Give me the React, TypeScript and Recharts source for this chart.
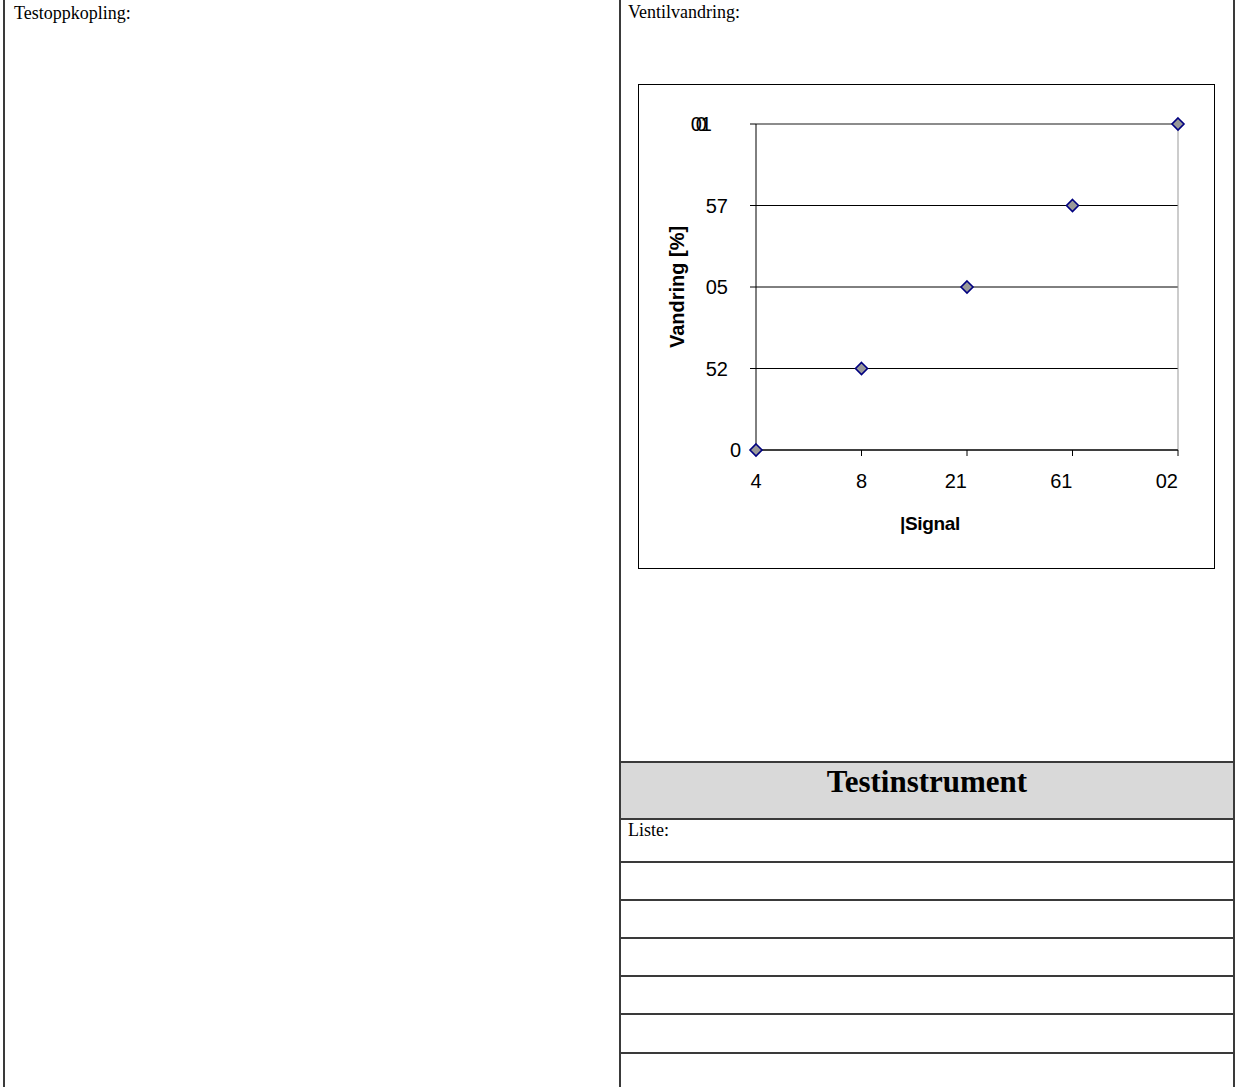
import React from "react";
import {
  ScatterChart,
  Scatter,
  XAxis,
  YAxis,
  CartesianGrid,
  ReferenceLine,
  Label,
} from "recharts";

// signal (mA) vs valve travel (%)
const signal = [4, 8, 12, 16, 20];
const vandring = [0, 25, 50, 75, 100];
const xTickLabels = ["4", "8", "21", "61", "02"];
const yTickLabels = ["0", "52", "05", "57", "001"];

const data = signal.map((s, i) => ({ signal: s, vandring: vandring[i] }));

const SANS = '"Liberation Sans", Arial, sans-serif';
const SERIF = '"Liberation Serif", "Times New Roman", serif';
const LINE = "#3a3a3a";

const rowLines = [761, 818, 861, 899, 937, 975, 1013, 1052];

function Diamond(props: any) {
  const { cx, cy } = props;
  const r = 6;
  return (
    <polygon
      points={`${cx},${cy - r} ${cx + r},${cy} ${cx},${cy + r} ${cx - r},${cy}`}
      fill="#999999"
      stroke="#000080"
      strokeWidth={1.6}
    />
  );
}

function YTick(props: any) {
  const { x, y, index } = props;
  const label = yTickLabels[index] ?? "";
  const shift = label.length > 1 ? 13 : 0;
  const tight = label.length > 2;
  return (
    <text
      x={x - shift - (tight ? 22 : 0)}
      y={y}
      dy="0.355em"
      textAnchor="end"
      fontFamily={SANS}
      fontSize={20}
      fill="#000"
      letterSpacing={tight ? -6 : 0}
    >
      {label}
    </text>
  );
}

function XTick(props: any) {
  const { x, y, index } = props;
  const label = xTickLabels[index] ?? "";
  return (
    <text
      x={x}
      y={y}
      dy="0.71em"
      textAnchor={label.length > 1 ? "end" : "middle"}
      fontFamily={SANS}
      fontSize={20}
      fill="#000"
    >
      {label}
    </text>
  );
}

function VentilChart() {
  return (
    <ScatterChart
      width={575}
      height={483}
      margin={{ top: 39, right: 36, bottom: 0, left: 0 }}
    >
      <CartesianGrid vertical={false} stroke="#000" />
      <ReferenceLine x={20} stroke="#999" />
      <ReferenceLine y={100} stroke="#999" />
      <XAxis
        type="number"
        dataKey="signal"
        domain={[4, 20]}
        ticks={signal}
        height={118}
        tickSize={6}
        tickMargin={18}
        axisLine={{ stroke: "#000" }}
        tickLine={{ stroke: "#000" }}
        tick={<XTick />}
      >
        <Label
          content={(p: any) => {
            const vb = p.viewBox;
            return (
              <text
                x={vb.x + vb.width / 2 - 37}
                y={vb.y + 73}
                dy="0.355em"
                textAnchor="middle"
                fontFamily={SANS}
                fontSize={19}
                fontWeight="bold"
                letterSpacing={-0.3}
                fill="#000"
              >
                |Signal
              </text>
            );
          }}
        />
      </XAxis>
      <YAxis
        type="number"
        dataKey="vandring"
        domain={[0, 100]}
        ticks={vandring}
        width={117}
        tickSize={6}
        tickMargin={9}
        axisLine={{ stroke: "#000" }}
        tickLine={{ stroke: "#000" }}
        tick={<YTick />}
      >
        <Label
          content={(p: any) => {
            const vb = p.viewBox;
            const cx = vb.x + 38;
            const cy = vb.y + vb.height / 2;
            return (
              <text
                x={cx}
                y={cy}
                dy="0.355em"
                textAnchor="middle"
                transform={`rotate(-90, ${cx}, ${cy})`}
                fontFamily={SANS}
                fontSize={20}
                fontWeight="bold"
                fill="#000"
              >
                Vandring [%]
              </text>
            );
          }}
        />
      </YAxis>
      <Scatter data={data} shape={<Diamond />} isAnimationActive={false} />
    </ScatterChart>
  );
}

export default function App() {
  return (
    <div
      style={{
        position: "absolute",
        left: 0,
        top: 0,
        width: 1236,
        height: 1087,
        overflow: "hidden",
        background: "#fff",
      }}
    >
      {/* vertical frame lines */}
      <div style={{ position: "absolute", left: 3, top: 0, width: 2, height: 1087, background: LINE }} />
      <div style={{ position: "absolute", left: 619, top: 0, width: 2, height: 1087, background: LINE }} />
      <div style={{ position: "absolute", left: 1233, top: 0, width: 2, height: 1087, background: LINE }} />

      <div style={{ position: "absolute", left: 14, top: 3, fontFamily: SERIF, fontSize: 18, lineHeight: "20px" }}>
        Testoppkopling:
      </div>
      <div style={{ position: "absolute", left: 628, top: 2, fontFamily: SERIF, fontSize: 18, lineHeight: "20px" }}>
        Ventilvandring:
      </div>

      <div
        style={{
          position: "absolute",
          left: 638,
          top: 84,
          width: 575,
          height: 483,
          border: "1px solid #000",
        }}
      >
        <VentilChart />
      </div>

      {/* Testinstrument header band */}
      <div
        style={{
          position: "absolute",
          left: 621,
          top: 761,
          width: 612,
          height: 57,
          background: "#d9d9d9",
          fontFamily: SERIF,
          fontSize: 31,
          fontWeight: "bold",
          textAlign: "center",
          lineHeight: "42px",
        }}
      >
        Testinstrument
      </div>
      {rowLines.map((y) => (
        <div
          key={y}
          style={{ position: "absolute", left: 619, top: y, width: 616, height: 2, background: LINE }}
        />
      ))}
      <div style={{ position: "absolute", left: 628, top: 820, fontFamily: SERIF, fontSize: 18, lineHeight: "20px" }}>
        Liste:
      </div>
    </div>
  );
}
